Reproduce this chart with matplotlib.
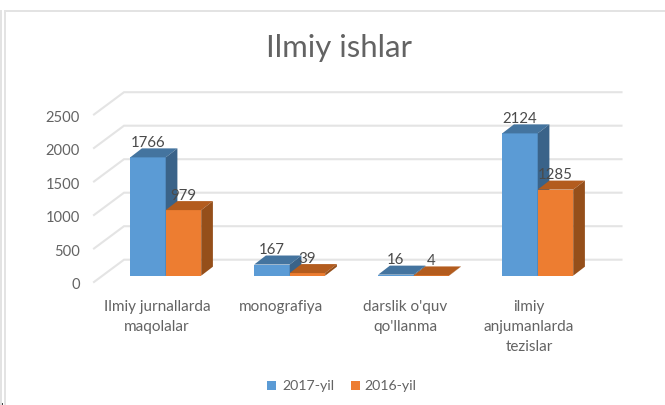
import numpy as np
import matplotlib
matplotlib.use("Agg")
import matplotlib.pyplot as plt
from matplotlib.patches import Polygon, Rectangle

categories = ["Ilmiy jurnallarda\nmaqolalar", "monografiya", "darslik o'quv\nqo'llanma", "ilmiy\nanjumanlarda\ntezislar"]
series_names = ["2017-yil", "2016-yil"]
values_2017 = [1766, 167, 16, 2124]
values_2016 = [979, 39, 4, 1285]
y_ticks = [0, 500, 1000, 1500, 2000, 2500]

W, H = 665, 406
PX_X = 124.0        # pixels per category
PX_Y = 0.067        # pixels per unit
X0, Y0 = 165.7, 276.7   # pixel position of category 0 / value 0


def u(px):
    return px / PX_X


def v(px):
    return px / PX_Y


plt.rcParams["font.family"] = ["Lato", "DejaVu Sans"]
fig = plt.figure(figsize=(W / 100, H / 100), dpi=100)
ax = fig.add_axes([0, 0, 1, 1])
ax.set_xlim(-X0 / PX_X, (W - X0) / PX_X)
ax.set_ylim(-(H - Y0) / PX_Y, Y0 / PX_Y)
ax.axis("off")

# screenshot frame
frame = "#e3e3e3"
ax.plot([u(4.5 - X0), u(4.5 - X0)], [v(Y0 - 11.5), v(Y0 - H)], color=frame, lw=1.4)
ax.plot([u(1 - X0), u(1 - X0)], [v(Y0 - 11.5), v(Y0 - H)], color=frame, lw=1.4)
ax.plot([u(4.5 - X0), u(W - X0)], [v(Y0 - 11.5), v(Y0 - 11.5)], color=frame, lw=1.4)

# walls
grid = "#e4e4e4"
wall_left, wall_right = u(124 - X0), u(621.5 - X0)
floor_left = u(94 - X0)
back_off, front_off = v(16), v(-6.3)
for t in y_ticks:
    ax.plot([floor_left, wall_left, wall_right],
            [t + front_off, t + back_off, t + back_off],
            color=grid, lw=1.5, solid_joinstyle="miter", zorder=1)
    ax.text(u(80 - X0), t + front_off - v(2.5), str(t), ha="right", va="center",
            fontsize=10.6, color="#636363")

# bars
bar_w = u(35.5)
depth_x, depth_y = u(11.7), v(9)
colors = [("#5B9BD5", "#44749F", "#3A6389"), ("#ED7D31", "#B35C1E", "#954F1A")]

for s, vals in enumerate([values_2017, values_2016]):
    front, top, side = colors[s]
    # draw right group last so that the side faces overlap properly
    xs = np.arange(len(vals)) + (s - 1) * bar_w
    ax.bar(xs, vals, width=bar_w, align="edge", color=front, linewidth=0, zorder=3 + s)
    for x, val in zip(xs, vals):
        ax.add_patch(Polygon([(x, val), (x + bar_w, val),
                              (x + bar_w + depth_x, val + depth_y), (x + depth_x, val + depth_y)],
                             closed=True, fc=top, lw=0, zorder=3 + s))
        ax.add_patch(Polygon([(x + bar_w, 0), (x + bar_w + depth_x, depth_y),
                              (x + bar_w + depth_x, val + depth_y), (x + bar_w, val)],
                             closed=True, fc=side, lw=0, zorder=3 + s))
        ax.text(x + bar_w / 2, val + v(15.2), str(val), ha="center", va="center",
                fontsize=10.8, color="#4a4a4a", zorder=6)

# category labels
label_x = u(157 - X0) + np.arange(len(categories))
for x, lab in zip(label_x, categories):
    ax.text(x, v(Y0 - 299.5), lab, ha="center", va="top", fontsize=11,
            color="#636363", linespacing=1.57)

# title
ax.text(u(339 - X0), v(Y0 - 56.7), "Ilmiy ishlar", ha="center", va="baseline",
        fontsize=22.4, color="#636363")

# legend
for name, col, hx, tx in zip(series_names, ["#5B9BD5", "#ED7D31"], [267, 351], [282, 364]):
    ax.add_patch(Rectangle((u(hx - X0), v(Y0 - 391)), u(9), v(9), fc=col, lw=0))
    ax.text(u(tx - X0), v(Y0 - 386.5), name, ha="left", va="center",
            fontsize=10.2, color="#636363")

# small dark corner mark in the screenshot
ax.add_patch(Rectangle((u(0 - X0), v(Y0 - H)), u(3), v(2), fc="#444444", lw=0))

fig.savefig("out.png", dpi=100)
